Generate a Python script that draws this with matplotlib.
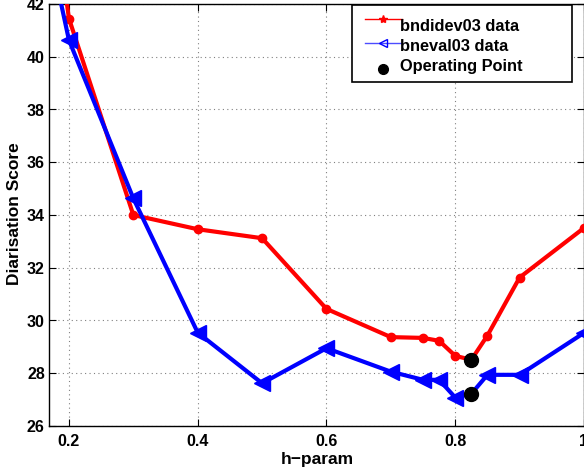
import matplotlib
matplotlib.use("Agg")
import matplotlib.pyplot as plt
from matplotlib.lines import Line2D
from matplotlib.patches import Rectangle

# Data
h_dev = [0.15, 0.2, 0.3, 0.4, 0.5, 0.6, 0.7, 0.75, 0.775, 0.8, 0.825, 0.85, 0.9, 1.0]
score_dev = [50.3, 41.45, 34.0, 33.46, 33.12, 30.44, 29.37, 29.34, 29.23, 28.66, 28.51, 29.43, 31.63, 33.51]
h_eval = [0.15, 0.2, 0.3, 0.4, 0.5, 0.6, 0.7, 0.75, 0.775, 0.8, 0.825, 0.85, 0.9, 1.0]
score_eval = [46.3, 40.63, 34.63, 29.54, 27.62, 28.95, 28.06, 27.75, 27.75, 27.08, 27.22, 27.94, 27.94, 29.53]
op_h = [0.825, 0.825]
op_score = [28.51, 27.22]
xticks = [0.2, 0.4, 0.6, 0.8, 1.0]
xticklabels = ["0.2", "0.4", "0.6", "0.8", "1"]
yticks = [26, 28, 30, 32, 34, 36, 38, 40, 42]
legend_labels = ["bndidev03 data", "bneval03 data", "Operating Point"]

W, H = 584, 473
plt.rcParams['font.family'] = ['Liberation Sans', 'DejaVu Sans']
plt.rcParams['font.weight'] = 'bold'
fig = plt.figure(figsize=(W / 100, H / 100), dpi=100)

def fx(px):
    return px / W

def fy(py):
    return 1 - py / H

# markers are not shown at the operating point itself
mark_dev = [i for i, h in enumerate(h_dev) if h not in op_h]
mark_eval = [i for i, h in enumerate(h_eval) if h not in op_h]

ax = fig.add_axes([fx(49), fy(426), fx(584) - fx(49), fy(4) - fy(426)])
ax.plot(h_dev, score_dev, color='red', lw=3, marker='o', ms=6, markevery=mark_dev, zorder=3)
ax.plot(h_eval, score_eval, color='blue', lw=3, marker='<', ms=11, markevery=mark_eval, zorder=4)
ax.plot(op_h, op_score, ls='none', marker='o', ms=10, color='black', zorder=5)

ax.set_xlim(0.169, 1.0)
ax.set_ylim(26, 42)
ax.set_xticks(xticks)
ax.set_xticklabels(xticklabels)
ax.set_yticks(yticks)
ax.tick_params(direction='in', top=True, right=True, labelsize=11.5, length=5, width=0.8)
ax.tick_params(axis='y', pad=3)
ax.tick_params(axis='x', pad=6)
for lab in ax.get_xticklabels() + ax.get_yticklabels():
    lab.set_fontweight('bold')
ax.grid(True, ls=(0, (1, 3)), color='#808080', lw=0.8)
ax.set_axisbelow(True)
for s in ax.spines.values():
    s.set_linewidth(1.0)

fig.text(fx(317), fy(459), "h\u2212param", ha='center', va='center', fontsize=12.5, fontweight='bold')
fig.text(fx(15), fy(214), "Diarisation Score", ha='center', va='center', rotation=90, fontsize=12.5, fontweight='bold')

# Legend drawn manually (MATLAB-like)
fig.patches.append(Rectangle((fx(351.7), fy(81.7)), fx(571.7) - fx(351.7), fy(5) - fy(81.7),
                             transform=fig.transFigure, facecolor='white', edgecolor='black', lw=1.2, zorder=10))
fig.lines.append(Line2D([fx(365), fx(402)], [fy(19.3), fy(19.3)], transform=fig.transFigure,
                        color='red', lw=1, marker=None, zorder=11))
fig.lines.append(Line2D([fx(383.3)], [fy(19.3)], transform=fig.transFigure, color='red',
                        marker='*', ms=6, ls='none', zorder=11))
fig.lines.append(Line2D([fx(365), fx(402)], [fy(42.7), fy(42.7)], transform=fig.transFigure,
                        color='blue', lw=1, alpha=0.7, zorder=11))
fig.lines.append(Line2D([fx(382.7)], [fy(42.7)], transform=fig.transFigure, color='blue',
                        marker='<', ms=6, mfc='none', ls='none', zorder=11))
fig.lines.append(Line2D([fx(383.3)], [fy(69)], transform=fig.transFigure, color='black',
                        marker='o', ms=7, ls='none', zorder=11))
for label, yc in zip(legend_labels, [26.5, 46.7, 66.0]):
    fig.text(fx(400), fy(yc), label, ha='left', va='center', fontsize=11.8, fontweight='bold', zorder=12)

fig.savefig("out.png", dpi=100)
